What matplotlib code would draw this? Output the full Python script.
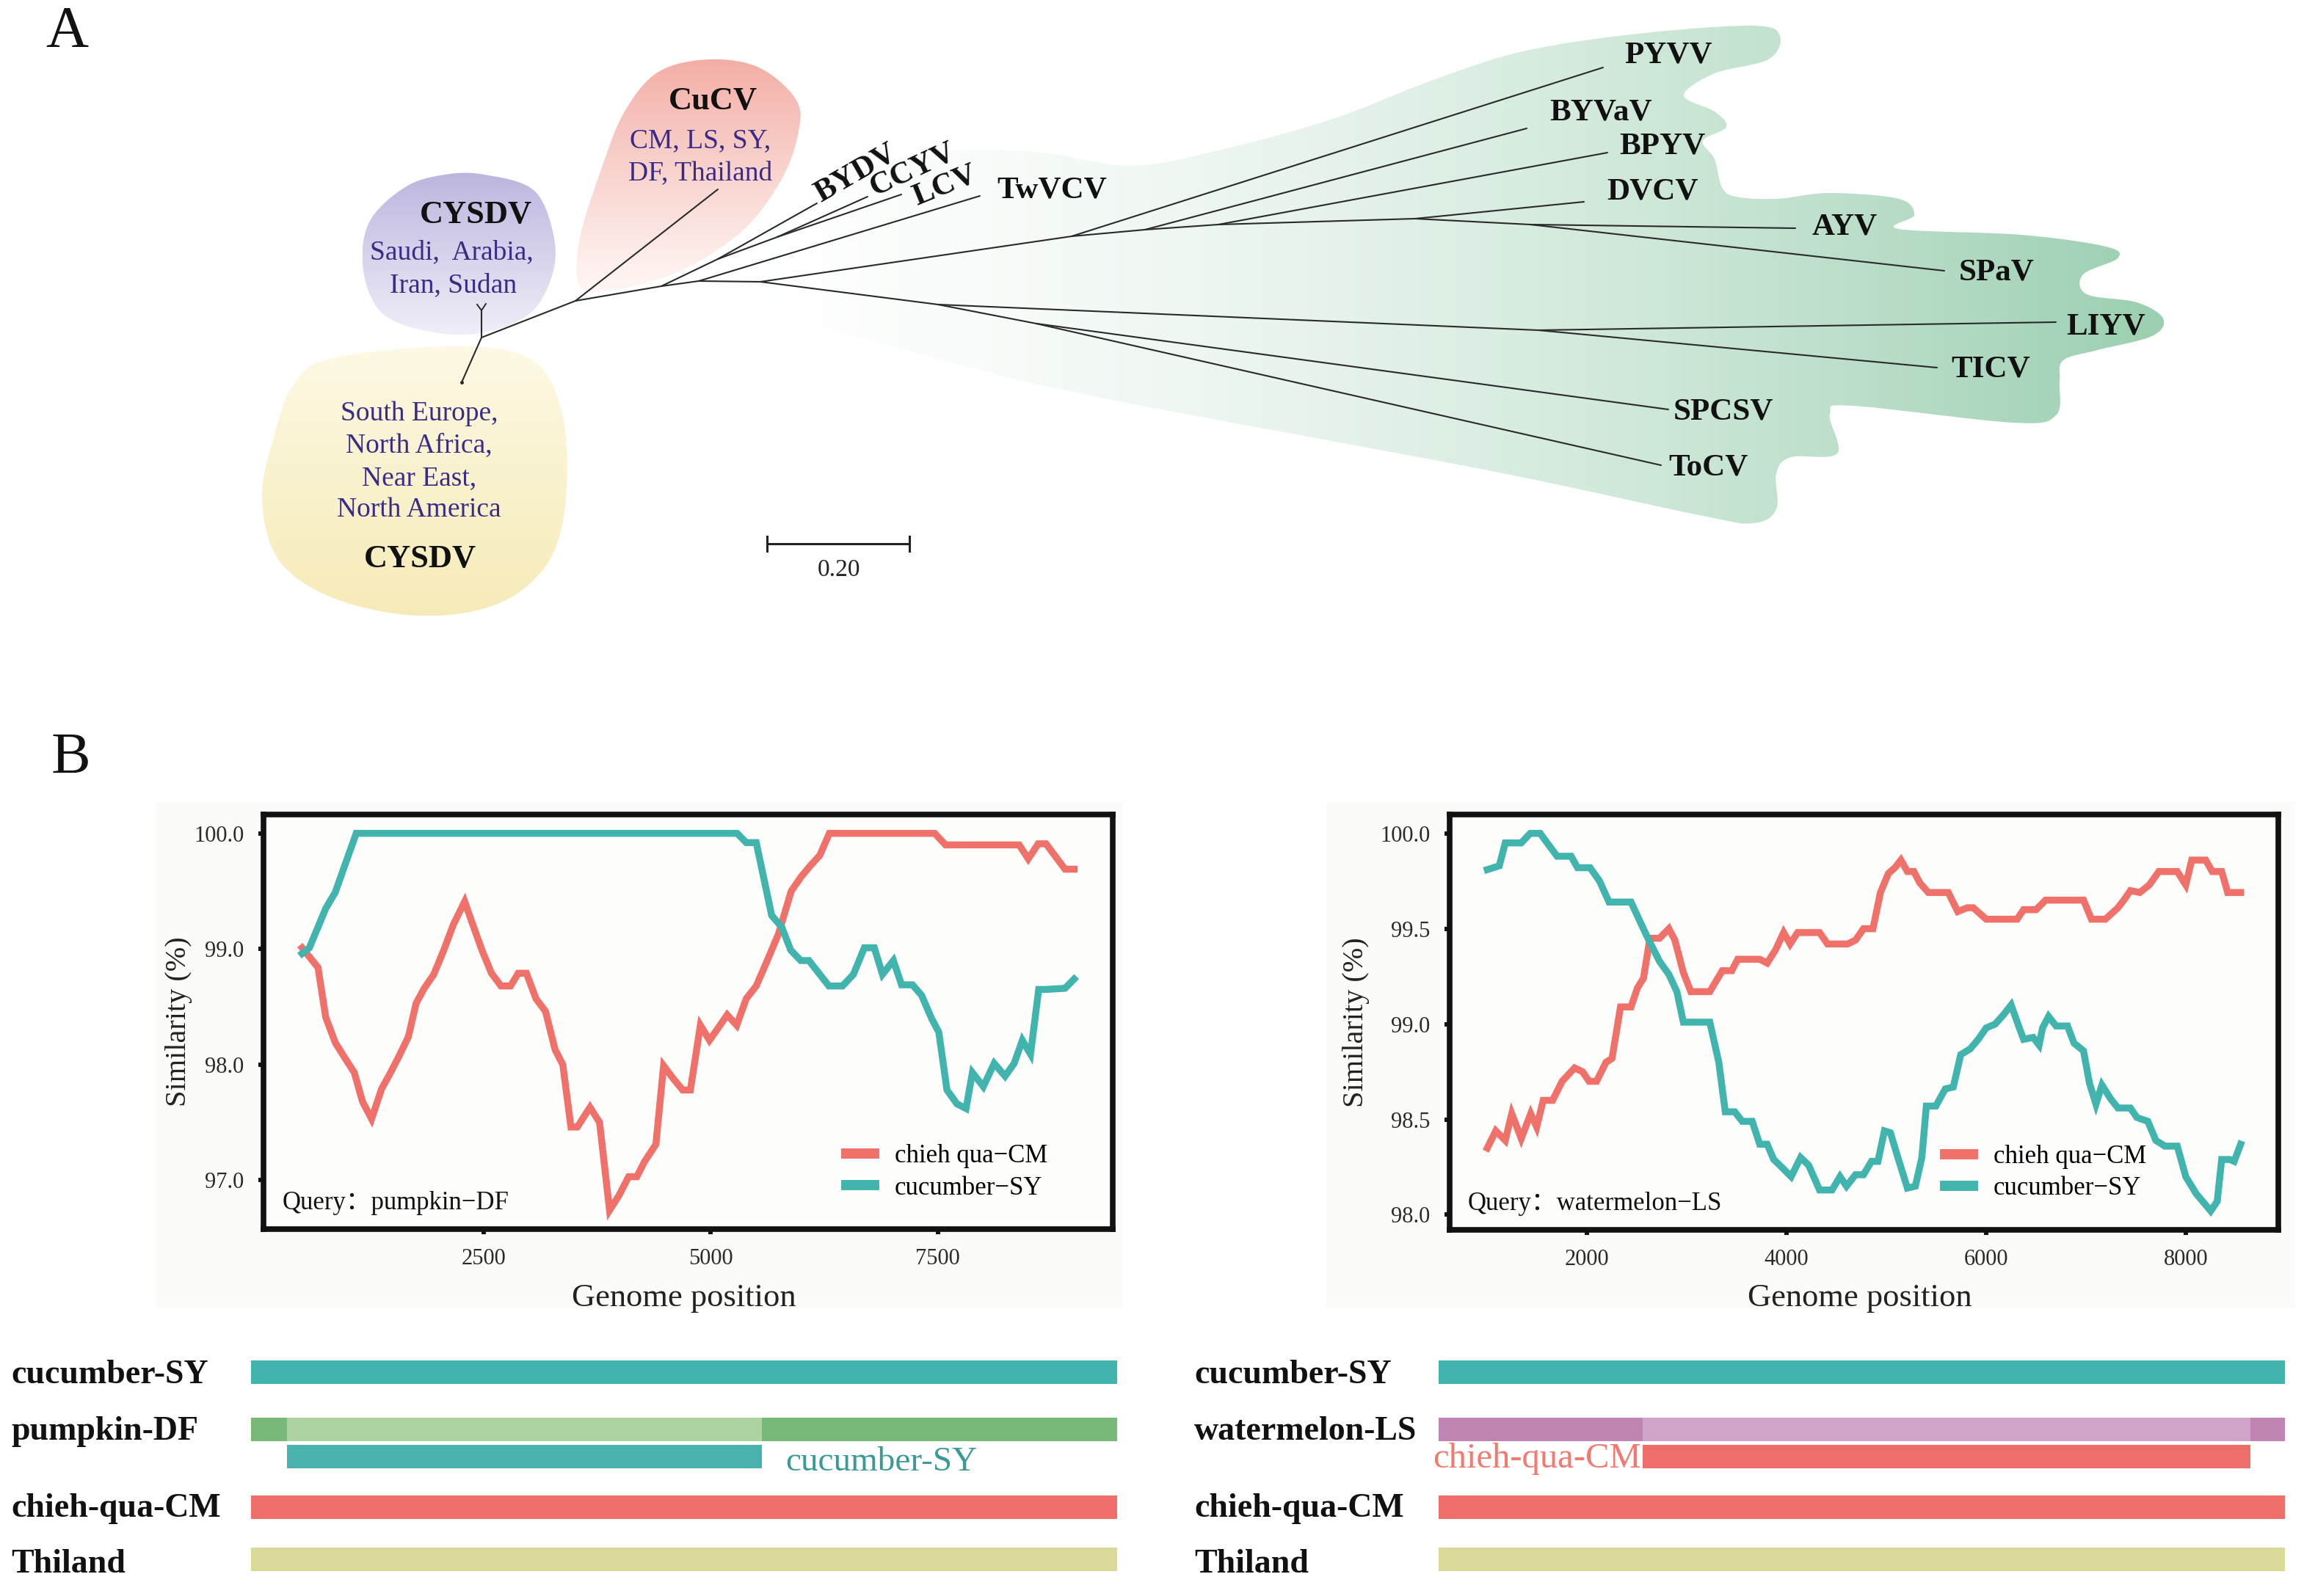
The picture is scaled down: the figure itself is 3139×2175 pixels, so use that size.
import numpy as np
import matplotlib
matplotlib.use('Agg')
import matplotlib.pyplot as plt
from matplotlib.path import Path
from matplotlib.patches import PathPatch, Rectangle
from matplotlib.colors import LinearSegmentedColormap
from matplotlib.lines import Line2D
from matplotlib.ticker import FormatStrFormatter

# ======================= DATA =======================
# Panel B (left) : query pumpkin-DF
left_pos_cm = [500, 675, 760, 865, 985, 1075, 1165, 1265, 1375, 1460, 1565, 1670, 1755, 1845, 1950,
               2060, 2165, 2290, 2375, 2480, 2585, 2690, 2795, 2880, 2970, 3075, 3180, 3285, 3370, 3460,
               3530, 3670, 3775, 3885, 3990, 4095, 4185, 4270, 4395, 4480, 4585, 4690, 4775, 4885, 4985,
               5075, 5180, 5285, 5390, 5500, 5605, 5745, 5885, 5990, 6095, 6200, 6305, 7465, 7585, 8395,
               8495, 8605, 8690, 8900, 9000]
left_sim_cm = [99.01, 98.84, 98.41, 98.19, 98.04, 97.93, 97.68, 97.53, 97.79, 97.91, 98.07, 98.24, 98.53, 98.66, 98.78,
               98.99, 99.21, 99.41, 99.22, 98.99, 98.79, 98.68, 98.68, 98.79, 98.79, 98.57, 98.46, 98.13, 98.00, 97.46,
               97.46, 97.63, 97.50, 96.74, 96.87, 97.03, 97.03, 97.16, 97.31, 97.99, 97.88, 97.78, 97.78, 98.34, 98.21,
               98.31, 98.43, 98.34, 98.57, 98.68, 98.87, 99.13, 99.50, 99.62, 99.72, 99.81, 100.0, 100.0, 99.90, 99.90,
               99.78, 99.91, 99.91, 99.69, 99.69]
left_pos_sy = [500, 580, 760, 865, 955, 1096, 5290, 5390, 5500, 5670, 5780, 5880, 5990, 6080, 6300,
               6450, 6570, 6690, 6800, 6890, 7010, 7100, 7220, 7320, 7430, 7510, 7600, 7710, 7810, 7880,
               8000, 8120, 8240, 8340, 8430, 8520, 8610, 8690, 8900, 9000]
left_sim_sy = [98.96, 99.01, 99.35, 99.49, 99.69, 100.0, 100.0, 99.92, 99.92, 99.29, 99.19, 98.99, 98.90, 98.90, 98.68,
               98.68, 98.78, 99.01, 99.01, 98.78, 98.90, 98.69, 98.69, 98.60, 98.40, 98.28, 97.78, 97.66, 97.62, 97.93,
               97.81, 98.01, 97.90, 98.01, 98.21, 98.09, 98.65, 98.65, 98.66, 98.74]

# Panel B (right) : query watermelon-LS
right_pos_cm = [1000, 1085, 1180, 1245, 1340, 1435, 1495, 1560, 1655, 1750, 1875, 1955, 2020, 2095, 2190,
                2250, 2335, 2440, 2505, 2565, 2630, 2725, 2820, 2880, 2965, 3040, 3230, 3355, 3450, 3510,
                3730, 3805, 3890, 3970, 4035, 4110, 4330, 4410, 4610, 4690, 4770, 4865, 4940, 5020, 5085,
                5145, 5210, 5275, 5335, 5420, 5620, 5715, 5810, 5870, 6000, 6310, 6375, 6500, 6595, 6975,
                7055, 7195, 7320, 7380, 7445, 7540, 7635, 7730, 7915, 8000, 8060, 8200, 8265, 8360, 8420, 8550]
right_sim_cm = [98.35, 98.44, 98.39, 98.53, 98.40, 98.53, 98.46, 98.60, 98.60, 98.70, 98.77, 98.75, 98.70, 98.70, 98.80,
                98.82, 99.09, 99.09, 99.19, 99.24, 99.45, 99.45, 99.50, 99.44, 99.27, 99.17, 99.17, 99.28, 99.28, 99.34,
                99.34, 99.32, 99.39, 99.48, 99.42, 99.48, 99.48, 99.42, 99.42, 99.44, 99.50, 99.50, 99.69, 99.79, 99.82,
                99.86, 99.80, 99.80, 99.74, 99.69, 99.69, 99.59, 99.61, 99.61, 99.55, 99.55, 99.60, 99.60, 99.65, 99.65,
                99.55, 99.55, 99.61, 99.65, 99.70, 99.69, 99.73, 99.80, 99.80, 99.73, 99.86, 99.86, 99.80, 99.80, 99.69, 99.69]
right_pos_sy = [1000, 1120, 1180, 1340, 1430, 1530, 1600, 1700, 1840, 1905, 2030, 2125, 2220, 2440, 2600,
                2725, 2820, 2900, 2965, 3230, 3320, 3385, 3480, 3555, 3655, 3730, 3805, 3870, 3950, 4045,
                4140, 4220, 4330, 4455, 4535, 4600, 4690, 4770, 4850, 4915, 4980, 5040, 5115, 5210, 5290,
                5355, 5400, 5495, 5590, 5670, 5745, 5840, 5920, 6000, 6090, 6175, 6250, 6325, 6375, 6470,
                6530, 6565, 6625, 6700, 6815, 6880, 6975, 7035, 7100, 7160, 7245, 7320, 7445, 7510, 7620,
                7700, 7790, 7915, 8000, 8105, 8170, 8250, 8315, 8360, 8440, 8485, 8550]
right_sim_sy = [99.81, 99.83, 99.95, 99.95, 100.0, 100.0, 99.95, 99.88, 99.88, 99.82, 99.82, 99.75, 99.64, 99.64, 99.46,
                99.33, 99.26, 99.17, 99.01, 99.01, 98.80, 98.54, 98.54, 98.49, 98.49, 98.37, 98.37, 98.29, 98.25, 98.20,
                98.30, 98.26, 98.13, 98.13, 98.20, 98.15, 98.21, 98.21, 98.28, 98.28, 98.44, 98.43, 98.30, 98.14, 98.15,
                98.30, 98.57, 98.57, 98.66, 98.67, 98.84, 98.87, 98.92, 98.98, 99.00, 99.05, 99.10, 98.99, 98.92, 98.93,
                98.89, 98.98, 99.04, 98.99, 98.99, 98.90, 98.86, 98.69, 98.58, 98.68, 98.61, 98.56, 98.56, 98.51, 98.49,
                98.39, 98.36, 98.36, 98.20, 98.11, 98.07, 98.02, 98.07, 98.29, 98.29, 98.28, 98.37]

series_labels = ['chieh qua\u2212CM', 'cucumber\u2212SY']
left_xticks = [2500, 5000, 7500]
left_yticks = [97.0, 98.0, 99.0, 100.0]
right_xticks = [2000, 4000, 6000, 8000]
right_yticks = [98.0, 98.5, 99.0, 99.5, 100.0]

# Genome tracks
genome_length = 9000
track_names_left = ['cucumber-SY', 'pumpkin-DF', 'chieh-qua-CM', 'Thiland']
track_names_right = ['cucumber-SY', 'watermelon-LS', 'chieh-qua-CM', 'Thiland']
pumpkin_breaks = [370, 5310]       # recombinant region from cucumber-SY
watermelon_breaks = [2170, 8630]   # recombinant region from chieh-qua-CM

# Phylogenetic tree (unrooted layout, node positions in panel units)
tree_nodes = {
    'root': (656, 460), 'CYSDV_a': (656, 423), 'CYSDV_b': (629, 521),
    'n1': (784, 410), 'CuCV': (978, 258), 'n2': (901, 390),
    'nB': (978, 353), 'BYDV': (1113, 277), 'nC': (1059, 323), 'CCYV': (1182, 268), 'LCV': (1228, 265),
    'nA': (952, 383), 'TwVCV': (1335, 267), 'nD': (1036, 384),
    'u0': (1460, 322), 'PYVV': (2184, 92), 'u1': (1560, 313), 'BYVaV': (2080, 175),
    'u2': (1660, 306), 'BPYV': (2190, 208), 'u3': (1928, 298), 'DVCV': (2158, 275),
    'u4': (2085, 306), 'AYV': (2446, 311), 'SPaV': (2649, 369),
    'nE': (1278, 415), 'nF': (2096, 450), 'LIYV': (2801, 439), 'TICV': (2639, 501),
    'nG': (1412, 441), 'SPCSV': (2273, 558), 'ToCV': (2263, 634)}
tree_edges = [('root', 'CYSDV_a'), ('root', 'CYSDV_b'), ('root', 'n1'), ('n1', 'CuCV'), ('n1', 'n2'),
              ('n2', 'nB'), ('nB', 'BYDV'), ('nB', 'nC'), ('nC', 'CCYV'), ('nC', 'LCV'),
              ('n2', 'nA'), ('nA', 'TwVCV'), ('nA', 'nD'), ('nD', 'u0'), ('u0', 'PYVV'), ('u0', 'u1'),
              ('u1', 'BYVaV'), ('u1', 'u2'), ('u2', 'BPYV'), ('u2', 'u3'), ('u3', 'DVCV'), ('u3', 'u4'),
              ('u4', 'AYV'), ('u4', 'SPaV'), ('nD', 'nE'), ('nE', 'nF'), ('nF', 'LIYV'), ('nF', 'TICV'),
              ('nE', 'nG'), ('nG', 'SPCSV'), ('nG', 'ToCV')]
tip_labels = {'PYVV': (2273, 76, 0), 'BYVaV': (2181, 153, 0), 'BPYV': (2265, 200, 0), 'DVCV': (2252, 262, 0),
              'AYV': (2513, 309, 0), 'SPaV': (2720, 371, 0), 'LIYV': (2869, 446, 0), 'TICV': (2712, 504, 0),
              'SPCSV': (2348, 561, 0), 'ToCV': (2327, 637, 0), 'TwVCV': (1433, 259, 0),
              'BYDV': (1166, 236, 30), 'CCYV': (1244, 231, 25), 'LCV': (1287, 253, 22)}

# ======================= FIGURE =======================
W, H, DPI = 3139, 2175, 100
fig = plt.figure(figsize=(W / DPI, H / DPI), dpi=DPI, facecolor='white')
plt.rcParams['font.family'] = ['Liberation Serif', 'DejaVu Serif']
plt.rcParams['axes.unicode_minus'] = True


def rect(x0, y0, x1, y1):
    return [x0 / W, 1 - y1 / H, (x1 - x0) / W, (y1 - y0) / H]


bg = fig.add_axes([0, 0, 1, 1])
bg.axis('off')


def smooth_closed(pts, n=24):
    P = np.asarray(pts, float)
    m = len(P)
    t = np.linspace(0, 1, n, endpoint=False)[:, None]
    out = []
    for i in range(m):
        p0, p1, p2, p3 = P[i - 1], P[i], P[(i + 1) % m], P[(i + 2) % m]
        out.append(0.5 * ((2 * p1) + (-p0 + p2) * t + (2 * p0 - 5 * p1 + 4 * p2 - p3) * t ** 2
                          + (-p0 + 3 * p1 - 3 * p2 + p3) * t ** 3))
    return np.vstack(out)


def blob(pts, c0, c1, direction='x', gamma=1.0):
    xy = smooth_closed(pts)
    patch = PathPatch(Path(np.vstack([xy, xy[:1]]), closed=True), fc='none', ec='none')
    bg.add_patch(patch)
    x0, y0 = xy.min(0)
    x1, y1 = xy.max(0)
    g = np.linspace(0, 1, 400) ** gamma
    arr = g[None, :] if direction == 'x' else g[:, None]
    cmap = LinearSegmentedColormap.from_list('g', [c0, c1])
    im = bg.imshow(arr, cmap=cmap, vmin=0, vmax=1, extent=(x0, x1, y1, y0),
                   aspect='auto', interpolation='bilinear', zorder=0)
    im.set_clip_path(patch)


green_pts = [(900, 388), (1000, 330), (1100, 262), (1200, 222), (1300, 205), (1420, 208), (1540, 226),
             (1660, 205), (1813, 163), (1950, 110), (2075, 70), (2231, 46), (2388, 35), (2425, 49), (2409, 81),
             (2336, 100), (2294, 130), (2336, 152), (2352, 173), (2320, 192), (2336, 217), (2346, 255),
             (2365, 268), (2420, 271), (2493, 263), (2587, 271), (2608, 293), (2587, 312), (2754, 320),
             (2869, 336), (2885, 352), (2838, 374), (2843, 401), (2911, 412), (2947, 434), (2932, 458),
             (2858, 477), (2811, 491), (2806, 520), (2801, 566), (2743, 576), (2524, 553), (2493, 564),
             (2503, 618), (2440, 623), (2420, 645), (2420, 694), (2388, 713), (2315, 702), (2022, 640),
             (1500, 542), (1300, 495), (1100, 440), (950, 402)]
purple_pts = [(660, 238), (728, 260), (755, 325), (751, 379), (721, 428), (660, 453), (591, 453),
              (522, 428), (495, 369), (503, 303), (552, 255), (606, 238)]
red_pts = [(966, 81), (1034, 92), (1084, 135), (1088, 179), (1065, 244), (1012, 314), (927, 369),
           (836, 396), (790, 390), (790, 325), (820, 228), (851, 152), (897, 98)]
yellow_pts = [(453, 488), (629, 472), (728, 493), (767, 569), (771, 678), (751, 759), (698, 813),
              (621, 837), (530, 835), (438, 808), (377, 759), (357, 678), (373, 596), (399, 526)]

blob(green_pts, '#ffffff', '#9bcfb0', 'x', 1.7)
blob(purple_pts, '#bcb6df', '#f0eef8', 'y', 1.0)
blob(red_pts, '#f3ada4', '#fff7f5', 'y', 0.9)
blob(yellow_pts, '#fdf9e4', '#f6ebb8', 'y', 1.0)

# tree branches
for a, b in tree_edges:
    (xa, ya), (xb, yb) = tree_nodes[a], tree_nodes[b]
    bg.plot([xa, xb], [ya, yb], color='#2a2a2a', lw=1.5, solid_capstyle='round', zorder=3)
xa, ya = tree_nodes['CYSDV_a']
bg.plot([xa - 6, xa, xa + 6], [ya - 8, ya, ya - 9], color='#2a2a2a', lw=1.4, zorder=3)
xb, yb = tree_nodes['CYSDV_b']
bg.plot([xb], [yb], marker='o', ms=2.5, color='#2a2a2a', zorder=3)

for name, (x, y, rot) in tip_labels.items():
    bg.text(x, y, name, fontsize=31, fontweight='bold', ha='center', va='center',
            rotation=rot, rotation_mode='anchor', color='#111111', zorder=4)

indigo = '#3a2c86'
bg.text(648, 293, 'CYSDV', fontsize=32, fontweight='bold', ha='center', va='center', color='#111111')
bg.text(615, 344, 'Saudi,  Arabia,', fontsize=27, ha='center', va='center', color=indigo)
bg.text(618, 389, 'Iran, Sudan', fontsize=27, ha='center', va='center', color=indigo)
bg.text(971, 138, 'CuCV', fontsize=32, fontweight='bold', ha='center', va='center', color='#111111')
bg.text(954, 192, 'CM, LS, SY,', fontsize=27, ha='center', va='center', color=indigo)
bg.text(954, 236, 'DF, Thailand', fontsize=27, ha='center', va='center', color=indigo)
for txt, yy in zip(['South Europe,', 'North Africa,', 'Near East,', 'North America'], [564, 607, 652, 695]):
    bg.text(571, yy, txt, fontsize=27, ha='center', va='center', color=indigo)
bg.text(572, 762, 'CYSDV', fontsize=32, fontweight='bold', ha='center', va='center', color='#111111')

# scale bar
bg.plot([1045, 1239], [741, 741], color='#222222', lw=2.2, zorder=3)
bg.plot([1045, 1045], [731, 751], color='#222222', lw=2.2, zorder=3)
bg.plot([1239, 1239], [731, 751], color='#222222', lw=2.2, zorder=3)
bg.text(1143, 777, '0.20', fontsize=24, ha='center', va='center', color='#222222')

# panel letters
bg.text(91, 44, 'A', fontsize=58, ha='center', va='center', color='#111111')
bg.text(96, 1034, 'B', fontsize=58, ha='center', va='center', color='#111111')

# faint plot backgrounds
bg.add_patch(Rectangle((212, 1093), 1318, 690, fc='#fbfbf9', ec='none', zorder=0))
bg.add_patch(Rectangle((1807, 1093), 1320, 690, fc='#fbfbf9', ec='none', zorder=0))

# ---- track labels ----
label_rows_baseline = [1885, 1962, 2067, 2143]
for names, lx in [(track_names_left, 15), (track_names_right, 1627)]:
    for nm, yb_ in zip(names, label_rows_baseline):
        bg.text(lx, yb_, nm, fontsize=33, fontweight='bold', ha='left', va='baseline', color='#111111')

teal = '#40b4ad'
red = '#f0706a'
bg.text(1070, 2004, 'cucumber-SY', fontsize=34, ha='left', va='baseline', color='#3a9b95')
bg.text(2236, 2000, 'chieh-qua-CM', fontsize=35, ha='right', va='baseline', color='#f27a70')

bg.set_xlim(0, W)
bg.set_ylim(H, 0)


# ======================= similarity plots =======================
def sim_plot(box, xs_cm, ys_cm, xs_sy, ys_sy, xticks, yticks, query, leg_x, ylab_x, xlab_y):
    ax = fig.add_axes(rect(*box))
    ax.set_facecolor('#fdfdfc')
    ax.plot(xs_cm, ys_cm, color=red, lw=6.8, solid_joinstyle='miter', zorder=3)
    ax.plot(xs_sy, ys_sy, color=teal, lw=6.8, solid_joinstyle='miter', zorder=3)
    ax.margins(x=0.05, y=0.05)
    ax.set_xticks(xticks)
    ax.set_yticks(yticks)
    ax.yaxis.set_major_formatter(FormatStrFormatter('%.1f'))
    for s in ax.spines.values():
        s.set_linewidth(5.5)
        s.set_color('#111111')
    ax.tick_params(length=5, width=4.3, color='#111111', labelsize=22, labelcolor='#2a2a2a', pad=14)
    ax.set_ylabel('Similarity (%)', fontsize=29, color='#222222', va='center')
    ax.yaxis.set_label_coords(ylab_x, 0.5)
    ax.set_xlabel('Genome position', fontsize=32, color='#222222', va='center')
    ax.xaxis.set_label_coords(0.495, xlab_y)
    handles = [Line2D([], [], color=red, lw=10), Line2D([], [], color=teal, lw=10)]
    ax.legend(handles, series_labels, loc='upper left', bbox_to_anchor=(leg_x, 0.205), frameon=False,
              fontsize=25, borderpad=0, handlelength=1.1, handletextpad=0.8, labelspacing=0.3,
              borderaxespad=0)
    ax.text(0.022, 0.062, 'Query\uff1a' + query, transform=ax.transAxes, fontsize=25, ha='left', va='center',
            family=['Liberation Serif', 'Noto Sans CJK SC'], color='#111111')
    return ax


sim_plot((359, 1110, 1516, 1675), left_pos_cm, left_sim_cm, left_pos_sy, left_sim_sy,
         left_xticks, left_yticks, 'pumpkin\u2212DF', 0.686, -0.100, -0.166)
sim_plot((1975, 1110, 3104, 1676), right_pos_cm, right_sim_cm, right_pos_sy, right_sim_sy,
         right_xticks, right_yticks, 'watermelon\u2212LS', 0.598, -0.113, -0.164)


# ======================= genome tracks =======================
row_centers = [1870, 1948, 1985, 2054, 2125]
bar_h = 32


def tracks(box, query_segments, query_colors, sub_range, sub_color):
    ax = fig.add_axes(rect(*box))
    ax.set_xlim(0, genome_length)
    ax.set_ylim(2165, 1830)
    ax.axis('off')
    ax.barh(row_centers[0], genome_length, left=0, height=bar_h, color=teal, edgecolor='none')
    for (a, b), c in zip(query_segments, query_colors):
        ax.barh(row_centers[1], b - a, left=a, height=bar_h, color=c, edgecolor='none')
    ax.barh(row_centers[2], sub_range[1] - sub_range[0], left=sub_range[0], height=bar_h,
            color=sub_color, edgecolor='none')
    ax.barh(row_centers[3], genome_length, left=0, height=bar_h, color='#ee6f6a', edgecolor='none')
    ax.barh(row_centers[4], genome_length, left=0, height=bar_h, color='#d9d99a', edgecolor='none')
    return ax


pb = [0] + pumpkin_breaks + [genome_length]
tracks((342, 1830, 1522, 2165), list(zip(pb[:-1], pb[1:])), ['#78b97a', '#acd3a1', '#78b97a'],
       pumpkin_breaks, '#4bb3ad')
wb = [0] + watermelon_breaks + [genome_length]
tracks((1960, 1830, 3113, 2165), list(zip(wb[:-1], wb[1:])), ['#c084b3', '#d0a3c8', '#c084b3'],
       watermelon_breaks, '#ee6f6a')

fig.savefig('out.png', dpi=DPI, facecolor='white')
